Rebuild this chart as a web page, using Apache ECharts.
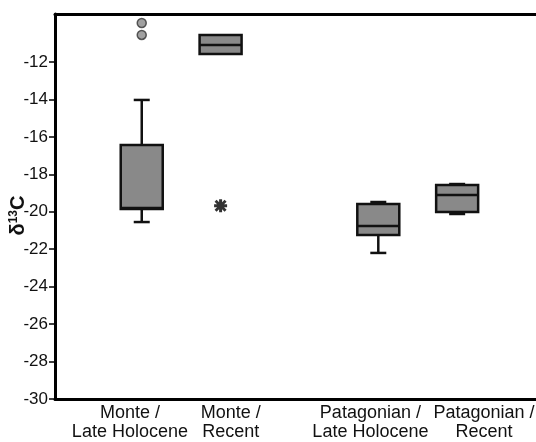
<!DOCTYPE html>
<html>
<head>
<meta charset="utf-8">
<script src="https://cdn.jsdelivr.net/npm/echarts@6/dist/echarts.min.js"></script>
<style>
  html, body { margin: 0; padding: 0; background: #fff; }
  #chart { width: 536px; height: 442px; }
</style>
</head>
<body>
<div id="chart"></div>
<script>
// groups and their place on the x scale (gap between Monte and Patagonian)
var categories = ['Monte /\nLate Holocene', 'Monte /\nRecent', 'Patagonian /\nLate Holocene', 'Patagonian /\nRecent'];
var groupX = [1, 2, 4, 5];
var labelX = [0.85, 2.13, 3.9, 5.34];

// box statistics
var boxMin = [-20.55, -11.57, -22.2, -20.12];
var boxQ1 = [-19.85, -11.57, -21.24, -20.01];
var boxMedian = [-19.8, -11.1, -20.76, -19.1];
var boxQ3 = [-16.43, -10.56, -19.59, -18.57];
var boxMax = [-14.03, -10.56, -19.48, -18.52];

// outliers: circles and extreme (asterisk)
var outlierCircles = [[1, -9.92], [1, -10.56]];
var outlierExtremes = [[2, -19.68]];

var yTicks = [-30, -28, -26, -24, -22, -20, -18, -16, -14, -12];

var boxData = groupX.map(function (x, i) {
  return [x, boxMin[i], boxQ1[i], boxMedian[i], boxQ3[i], boxMax[i]];
});

var chart = echarts.init(document.getElementById('chart'));

function renderBox(params, api) {
  var x = api.value(0);
  var half = 21, cap = 8;
  var pMin = api.coord([x, api.value(1)]);
  var pQ1 = api.coord([x, api.value(2)]);
  var pMed = api.coord([x, api.value(3)]);
  var pQ3 = api.coord([x, api.value(4)]);
  var pMax = api.coord([x, api.value(5)]);
  var line = { stroke: '#111', lineWidth: 2.5 };
  var children = [];
  if (pMax[1] < pQ3[1] - 0.5) {
    children.push({ type: 'line', shape: { x1: pQ3[0], y1: pQ3[1], x2: pMax[0], y2: pMax[1] }, style: line });
    children.push({ type: 'line', shape: { x1: pMax[0] - cap, y1: pMax[1], x2: pMax[0] + cap, y2: pMax[1] }, style: line });
  }
  if (pMin[1] > pQ1[1] + 0.5) {
    children.push({ type: 'line', shape: { x1: pQ1[0], y1: pQ1[1], x2: pMin[0], y2: pMin[1] }, style: line });
    children.push({ type: 'line', shape: { x1: pMin[0] - cap, y1: pMin[1], x2: pMin[0] + cap, y2: pMin[1] }, style: line });
  }
  children.push({
    type: 'rect',
    shape: { x: pQ3[0] - half, y: pQ3[1], width: half * 2, height: pQ1[1] - pQ3[1] },
    style: { fill: '#898989', stroke: '#111', lineWidth: 2.5 }
  });
  children.push({ type: 'line', shape: { x1: pMed[0] - half, y1: pMed[1], x2: pMed[0] + half, y2: pMed[1] }, style: line });
  return { type: 'group', children: children };
}

var asterisk = 'path://M4,0L7,0L7,3L9.5,0.5L11.5,2.5L9,5L12,5L12,8L9,8L11.5,10.5L9.5,12.5L7,10L7,13L4,13L4,10L1.5,12.5L-0.5,10.5L2,8L-1,8L-1,5L2,5L-0.5,2.5L1.5,0.5L4,3Z';

chart.setOption({
  animation: false,
  backgroundColor: '#fff',
  grid: { left: 55, right: 0, top: 14, bottom: 43, outerBoundsMode: 'none', containLabel: false },
  xAxis: [{
    type: 'value',
    min: -0.1,
    max: 6,
    position: 'bottom',
    splitLine: { show: false },
    axisLine: { show: true, onZero: false, lineStyle: { color: '#000', width: 3 } },
    axisTick: { show: false },
    axisLabel: {
      customValues: labelX,
      color: '#111',
      fontSize: 18,
      lineHeight: 19,
      margin: 5,
      fontFamily: 'Liberation Sans, Arial, sans-serif',
      formatter: function (v) {
        for (var i = 0; i < labelX.length; i++) {
          if (Math.abs(labelX[i] - v) < 1e-6) return categories[i];
        }
        return '';
      }
    }
  }, {
    type: 'value',
    min: -0.1,
    max: 6,
    position: 'top',
    splitLine: { show: false },
    axisLine: { show: true, onZero: false, lineStyle: { color: '#000', width: 3 } },
    axisTick: { show: false },
    axisLabel: { show: false }
  }],
  yAxis: {
    type: 'value',
    min: -30,
    max: -9.44,
    splitLine: { show: false },
    axisLine: { show: true, onZero: false, lineStyle: { color: '#000', width: 3 } },
    axisTick: { show: true, customValues: yTicks, length: 6, lineStyle: { color: '#000', width: 1.5 } },
    axisLabel: {
      customValues: yTicks,
      color: '#111',
      fontSize: 17,
      margin: 7,
      fontFamily: 'Liberation Sans, Arial, sans-serif'
    },
    name: '{d|δ}{s|13}{d|C}',
    nameLocation: 'middle',
    nameGap: 27,
    nameMoveOverlap: false,
    nameTextStyle: {
      padding: [0, 18, 0, 0],
      rich: {
        d: { fontSize: 20, fontWeight: 'bold', color: '#111', fontFamily: 'Liberation Sans, Arial, sans-serif' },
        s: { fontSize: 12, fontWeight: 'bold', color: '#111', fontFamily: 'Liberation Sans, Arial, sans-serif', verticalAlign: 'top', padding: [0, 0, 8, 0] }
      }
    }
  },
  series: [{
    type: 'custom',
    renderItem: renderBox,
    encode: { x: 0, y: [1, 2, 3, 4, 5] },
    data: boxData
  }, {
    type: 'scatter',
    symbol: 'circle',
    symbolSize: 9,
    itemStyle: { color: '#8a8a8a', borderColor: '#333', borderWidth: 1.5 },
    data: outlierCircles
  }, {
    type: 'scatter',
    symbol: asterisk,
    symbolSize: 13,
    itemStyle: { color: '#000' },
    data: outlierExtremes
  }]
});
</script>
</body>
</html>
